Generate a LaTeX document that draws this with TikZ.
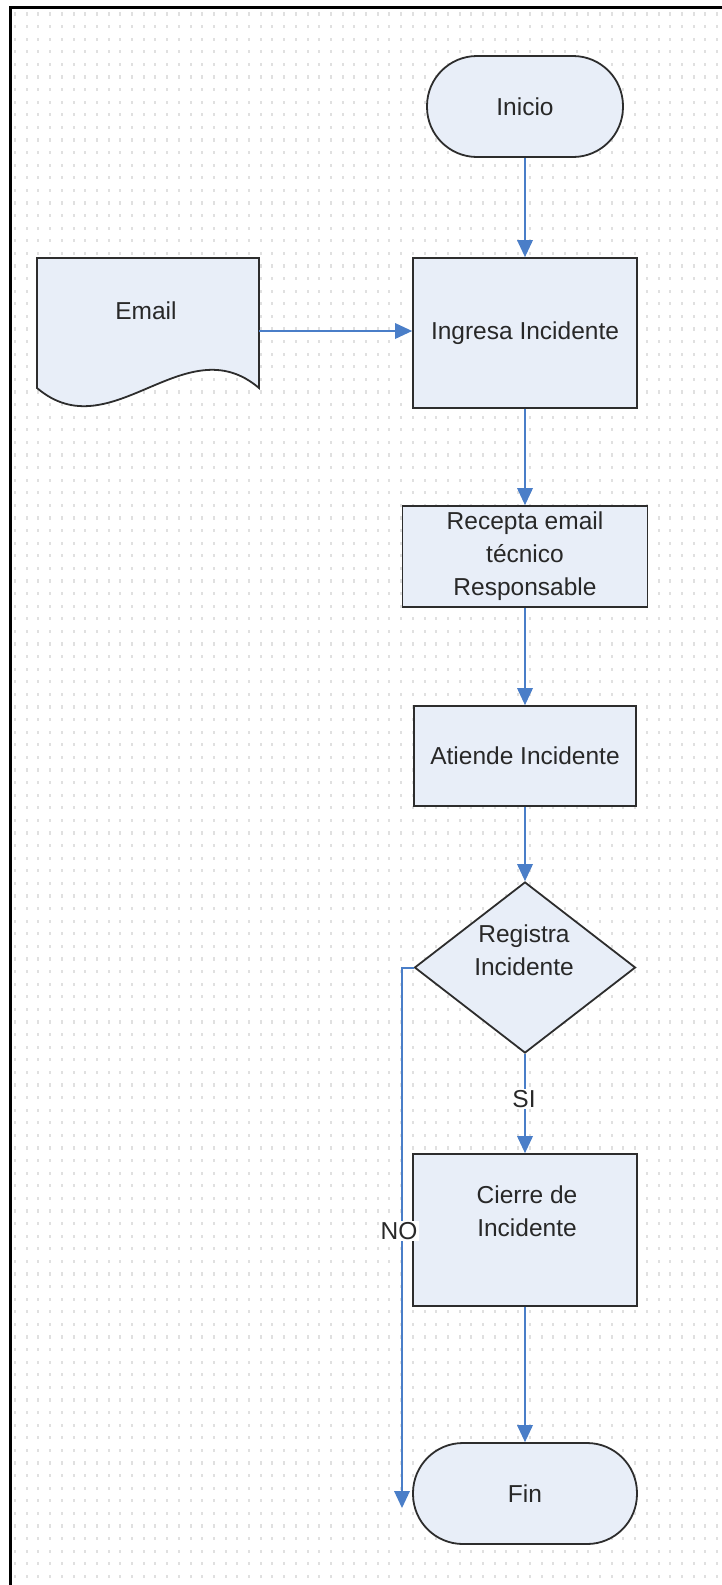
\documentclass[tikz,border=0pt]{standalone}
\usepackage{fontspec}
\setmainfont{Liberation Sans}
\usetikzlibrary{shapes.geometric,arrows.meta}
\definecolor{shapefill}{RGB}{232,238,248}
\definecolor{shapeline}{RGB}{45,45,45}
\definecolor{flowblue}{RGB}{74,126,200}
\definecolor{dotgray}{RGB}{224,224,224}
\definecolor{txtgray}{RGB}{40,40,40}

\begin{document}
\begin{tikzpicture}[x=1pt,y=-1pt,
  every node/.style={font=\fontsize{24.5}{33}\selectfont, text=txtgray},
  proc/.style={draw=shapeline, line width=1.8pt, fill=shapefill, rectangle,
               align=center, inner sep=0pt},
  term/.style={proc, rounded corners=50pt},
  decis/.style={draw=shapeline, line width=1.8pt, fill=shapefill, diamond,
                inner sep=0pt},
  plain/.style={align=center, inner sep=0pt},
  flow/.style={draw=flowblue, line width=2pt,
               -{Triangle[width=16pt,length=17pt,line width=0pt]}},
  tag/.style={fill=white, inner sep=1.5pt}
]
\useasboundingbox (0,0) rectangle (722,1585);
\fill[white] (0,0) rectangle (722,1585);

% dotted page grid
\foreach \x in {15,26.7,...,722}
  \foreach \y in {14,26.6,...,1585}
    \fill[dotgray] (\x-1,\y-1.6) rectangle ++(2,3.2);

% page frame
\draw[line width=3pt] (10,1590) -- (10,7) -- (725,7);

% shapes
\node[term, minimum width=196pt, minimum height=101pt] (inicio) at (525,106.5) {Inicio};
\node[proc, minimum width=224pt, minimum height=150pt] (ingresa) at (525,333) {Ingresa Incidente};
\node[proc, minimum width=245pt, minimum height=101pt] (recepta) at (525,556.5)
  {Recepta email\\técnico\\Responsable};
\node[proc, minimum width=222pt, minimum height=100pt] (atiende) at (525,756) {Atiende Incidente};
\node[decis, minimum width=221pt, minimum height=171pt] (dec) at (525,967.5) {};
\node[plain] (dectext) at (524,950) {Registra\\Incidente};
\node[proc, minimum width=224pt, minimum height=152pt] (cierre) at (525,1230) {};
\node[plain] (cierretext) at (527,1211) {Cierre de\\Incidente};
\node[term, minimum width=224pt, minimum height=101pt] (fin) at (525,1493.5) {Fin};

% document shape for the email
\node[inner sep=0pt, minimum width=222pt, minimum height=146pt] (email) at (148,331) {};
\draw[draw=shapeline, line width=1.8pt, fill=shapefill]
  (37,258) -- (259,258) -- (259,388)
  .. controls (185,325) and (111,451) .. (37,388) -- cycle;
\node[plain] (emailtext) at (146,311) {Email};

% connectors
\draw[flow] (inicio) -- (ingresa);
\draw[flow] (email.east) -- (ingresa.west |- email.east);
\draw[flow] (ingresa) -- (recepta);
\draw[flow] (recepta) -- (atiende);
\draw[flow] (atiende) -- (dec);
\draw[flow] (dec) -- (cierre);
\draw[flow] (cierre) -- (fin);
\coordinate (noend) at (402,1508);
\draw[flow] (dec.west) -| (noend);

% branch labels
\node[tag] (si) at (524,1099) {SI};
\node[tag] (no) at (399,1231) {NO};
\end{tikzpicture}
\end{document}
